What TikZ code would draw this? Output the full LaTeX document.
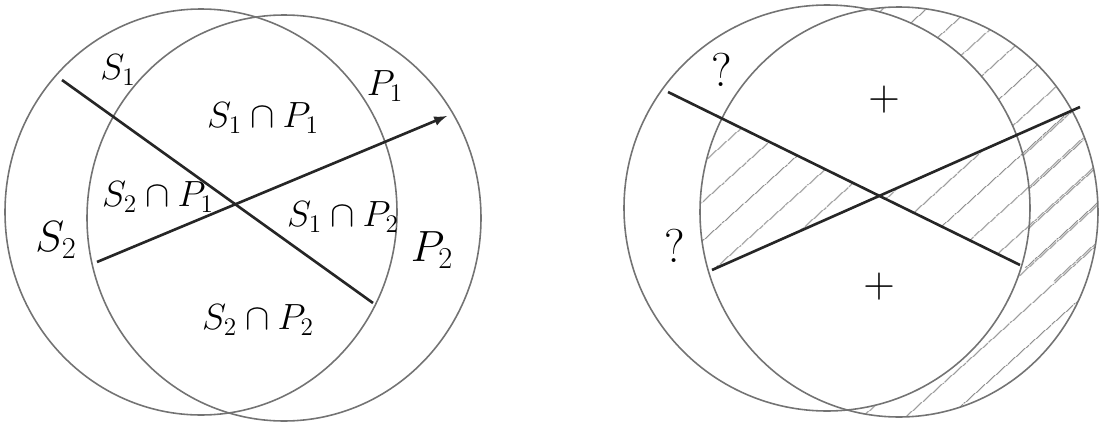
\documentclass[tikz,border=0pt]{standalone}
\usepackage{tikz}
\usetikzlibrary{calc,patterns.meta}
\tikzset{
  ring/.style={draw=black!55,line width=0.9pt},
  chord/.style={draw=black!85,line width=1.5pt,>=latex},
  lbl/.style={font=\fontsize{22}{24}\selectfont,inner sep=1pt},
  biglbl/.style={font=\fontsize{27}{30}\selectfont,inner sep=1pt},
  hatch/.style={pattern={Lines[angle=42,distance=17pt,line width=0.6pt]},pattern color=black!45},
}
\begin{document}
\begin{tikzpicture}[x=0.02cm,y=-0.02cm]
\useasboundingbox (0,0) rectangle (1100,423);
% left sketch
\coordinate (sc) at (201,212);
\coordinate (pc) at (284,218);
\draw[ring] (sc) ellipse [x radius=196,y radius=203];
\draw[ring] (pc) ellipse [x radius=197,y radius=203];
\coordinate (s1end) at (62,80); \coordinate (s2end) at (373,303);
\coordinate (p2end) at (97,262); \coordinate (p1end) at (447,116);
\draw[chord] (s1end) -- (s2end);
\draw[chord,->] (p2end) -- (p1end);
\node[lbl] (s1) at (118,70) {$S_1$};
\node[lbl] (p1) at (385,86) {$P_1$};
\node[lbl] (s1p1) at (263,118) {$S_1\cap P_1$};
\node[lbl] (s2p1) at (158,197) {$S_2\cap P_1$};
\node[lbl] (s1p2) at (343,217) {$S_1\cap P_2$};
\node[biglbl] (s2) at (56,240) {$S_2$};
\node[biglbl] (p2) at (432,250) {$P_2$};
\node[lbl] (s2p2) at (258,320) {$S_2\cap P_2$};
% right sketch
\coordinate (lc) at (827,208); \coordinate (rc) at (899,212);
\coordinate (a1) at (668,92); \coordinate (b1) at (1020,265);
\coordinate (a2) at (712,270); \coordinate (b2) at (1080,107);
\coordinate (x) at (intersection of a1--b1 and a2--b2);
\begin{scope}
\clip (rc) ellipse [x radius=199,y radius=205];
\fill[hatch] ($(a1)!-0.3!(b1)$) -- (x) -- ($(a2)!-0.3!(b2)$) -- cycle;
\fill[hatch] ($(b1)!-0.3!(a1)$) -- (x) -- ($(b2)!-0.3!(a2)$) -- cycle;
\fill[hatch,even odd rule] (rc) ellipse [x radius=199,y radius=205]
  (lc) ellipse [x radius=203,y radius=203];
\end{scope}
\draw[ring] (lc) ellipse [x radius=203,y radius=203];
\draw[ring] (rc) ellipse [x radius=199,y radius=205];
\draw[chord] (a1) -- (b1);
\draw[chord] (a2) -- (b2);
\node[biglbl] (q1) at (722,70) {?};
\node[biglbl] (q2) at (675,246) {?};
\node[biglbl] (plus1) at (884,100) {$+$};
\node[biglbl] (plus2) at (879,287) {$+$};
\end{tikzpicture}
\end{document}
